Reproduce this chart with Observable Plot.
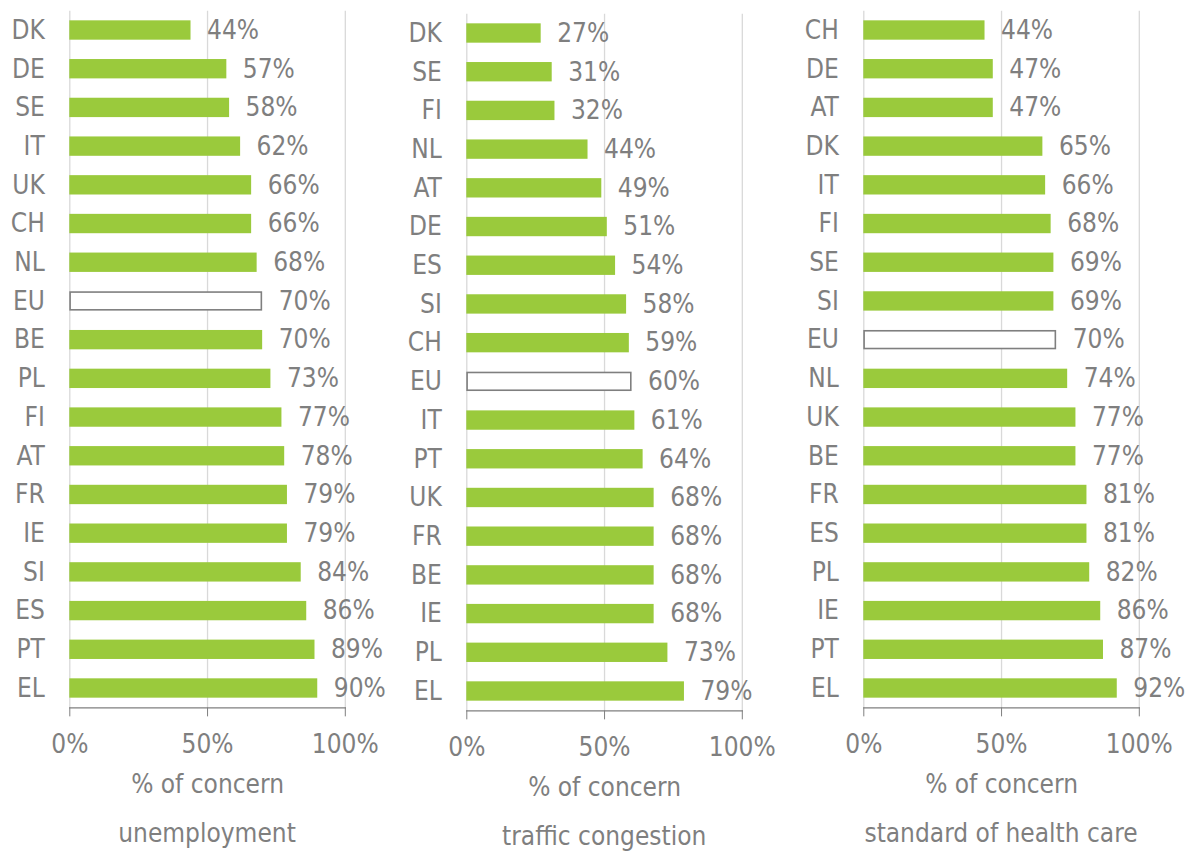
<!DOCTYPE html>
<html>
<head>
<meta charset="utf-8">
<script src="https://cdn.jsdelivr.net/npm/d3@7"></script>
<script src="https://cdn.jsdelivr.net/npm/@observablehq/plot@0.6"></script>
<style>
  html, body { margin: 0; padding: 0; background: #fff; }
  #wrap { position: relative; width: 1192px; height: 851px; overflow: hidden; }
  .panel { position: absolute; top: 0; width: 397px; }
  .title { position: absolute; font-family: "DejaVu Sans Condensed", "DejaVu Sans", sans-serif; font-size: 26px; line-height: 30px; color: #7f7f7f; text-align: center; white-space: nowrap; }
</style>
</head>
<body>
<div id="wrap"></div>
<script>
// ---- data ----
const unemploymentCountries = ["DK","DE","SE","IT","UK","CH","NL","EU","BE","PL","FI","AT","FR","IE","SI","ES","PT","EL"];
const unemploymentValues    = [44,57,58,62,66,66,68,70,70,73,77,78,79,79,84,86,89,90];

const trafficCountries = ["DK","SE","FI","NL","AT","DE","ES","SI","CH","EU","IT","PT","UK","FR","BE","IE","PL","EL"];
const trafficValues    = [27,31,32,44,49,51,54,58,59,60,61,64,68,68,68,68,73,79];

const healthCountries = ["CH","DE","AT","DK","IT","FI","SE","SI","EU","NL","UK","BE","FR","ES","PL","IE","PT","EL"];
const healthValues    = [44,47,47,65,66,68,69,69,70,74,77,77,81,81,82,86,87,92];

const panelTitles = ["unemployment", "traffic congestion", "standard of health care"];
const axisLabel = "% of concern";
const xTicks = [0, 50, 100];

// ---- style ----
const FONT = '"DejaVu Sans Condensed", "DejaVu Sans", sans-serif';
const FS = 26;
const GREEN = "#9aca3c";
const GRAY = "#7f7f7f";
const GRID = "#d9d9d9";

const panels = [
  {countries: unemploymentCountries, values: unemploymentValues, title: panelTitles[0], left: 0, top: 0},
  {countries: trafficCountries, values: trafficValues, title: panelTitles[1], left: 397.2, top: 3},
  {countries: healthCountries, values: healthValues, title: panelTitles[2], left: 794, top: -0.5}
];

const wrap = document.getElementById("wrap");
const ML = 69.3, PW = 275.5, W = 397, H = 800, MT = 10.65, MB = H - 707.35;

for (const p of panels) {
  const data = p.countries.map((c, i) => ({country: c, value: p.values[i]}));
  const chart = Plot.plot({
    width: W,
    height: H,
    marginLeft: ML,
    marginRight: W - ML - PW,
    marginTop: MT,
    marginBottom: MB,
    style: {fontFamily: FONT, fontSize: FS + "px", color: GRAY, background: "transparent"},
    x: {domain: [0, 100]},
    y: {domain: p.countries, paddingInner: 0.5, paddingOuter: 0.25, round: false},
    marks: [
      Plot.gridX({ticks: xTicks, stroke: GRID, strokeOpacity: 1, strokeWidth: 1.3}),
      Plot.barX(data.filter(d => d.country !== "EU"), {x: "value", y: "country", fill: GREEN}),
      Plot.barX(data.filter(d => d.country === "EU"), {x: "value", y: "country", fill: "white", stroke: GRAY, strokeWidth: 1.6, inset: 0.8}),
      Plot.text(data, {x: "value", y: "country", text: d => d.value + "%", textAnchor: "start", dx: 16, fill: GRAY, fontSize: FS}),
      Plot.frame({anchor: "bottom", stroke: GRAY, strokeWidth: 1.3}),
      Plot.axisX({ticks: xTicks, tickFormat: d => d + "%", tickSize: 9, tickPadding: 18, stroke: GRAY, fill: GRAY, fontSize: FS,
                  label: axisLabel, labelAnchor: "center", labelArrow: "none", labelOffset: 85}),
      Plot.axisY({tickSize: 0, tickPadding: 25, fill: GRAY, fontSize: FS, label: null})
    ]
  });
  const div = document.createElement("div");
  div.className = "panel";
  div.style.left = p.left + "px";
  div.style.top = p.top + "px";
  div.appendChild(chart);
  const t = document.createElement("div");
  t.className = "title";
  t.textContent = p.title;
  t.style.left = (ML - 40) + "px";
  t.style.width = (PW + 80) + "px";
  t.style.top = (833 - 15) + "px";
  div.appendChild(t);
  wrap.appendChild(div);
}
</script>
</body>
</html>
